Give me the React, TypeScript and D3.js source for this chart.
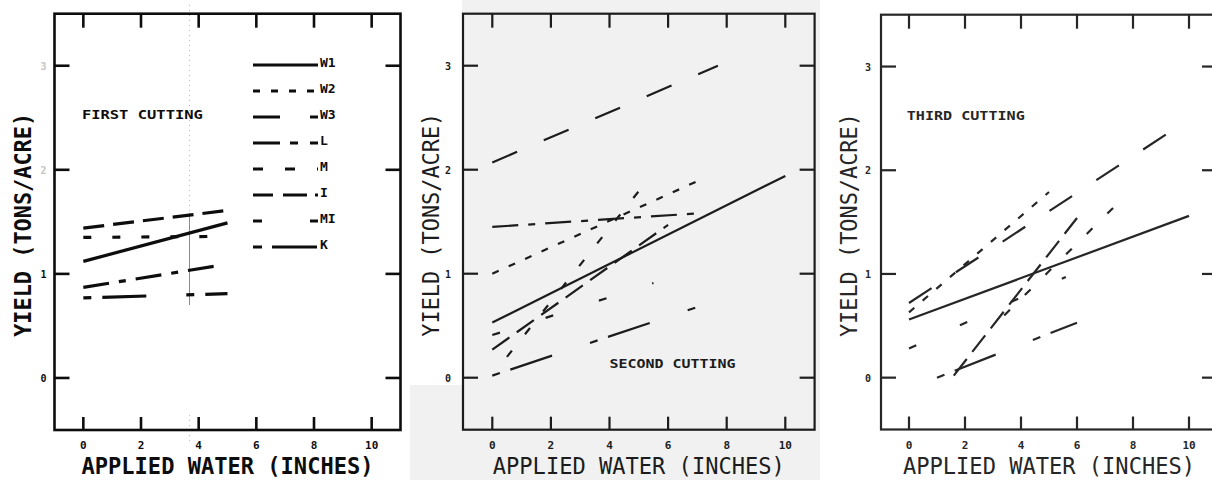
import React from "react";
import * as d3 from "d3";

// ---------- data ----------
const X_TICKS = [0, 2, 4, 6, 8, 10];
const Y_TICKS = [0, 1, 2, 3];
const X_TICK_LABELS = ["0", "2", "4", "6", "8", "10"];
const Y_TICK_LABELS = ["0", "1", "2", "3"];
const SERIES = ["W1", "W2", "W3", "L", "M", "I", "MI", "K"];
const CUTTINGS = ["FIRST CUTTING", "SECOND CUTTING", "THIRD CUTTING"];
const X_TITLE = "APPLIED WATER (INCHES)";
const Y_TITLE = "YIELD (TONS/ACRE)";

// regression lines: [series, water start, yield start, water end, yield end]
const FIRST_LINES: [string, number, number, number, number][] = [
  ["I", 0, 1.44, 5, 1.61],
  ["M", 0, 1.35, 4.6, 1.36],
  ["W1", 0, 1.12, 5, 1.49],
  ["L", 0, 0.87, 4.7, 1.08],
  ["K", 0, 0.77, 5, 0.81],
];
const SECOND_LINES: [string, number, number, number, number][] = [
  ["W3", 0, 2.07, 7.7, 3.0],
  ["W1", 0, 0.53, 10, 1.94],
  ["W2", 0, 1.0, 7, 1.89],
  ["L", 0, 1.45, 7, 1.58],
  ["I", 0, 0.27, 6, 1.47],
  ["M", 0.5, 0.2, 5.3, 1.9],
  ["MI", 0, 0.41, 5.5, 0.91],
  ["K", 0, 0.02, 7, 0.68],
];
const THIRD_LINES: [string, number, number, number, number][] = [
  ["W1", 0, 0.56, 10, 1.56],
  ["W2", 0, 0.63, 5, 1.79],
  ["W3", 0, 0.72, 10, 2.49],
  ["I", 1.6, 0.02, 6, 1.54],
  ["M", 3.4, 0.6, 7.6, 1.72],
  ["MI", 0, 0.28, 5.6, 0.97],
  ["K", 1.0, 0.0, 6, 0.53],
];

// ---------- styles ----------
const DASH: Record<string, string> = {
  W1: "none",
  W2: "7 11",
  W3: "27 29",
  L: "26 10 7 10",
  M: "8 21",
  I: "21 9",
  MI: "8 48",
  K: "8 11 44 40",
};
const LEGEND_DASH: Record<string, string> = {
  W1: "none",
  W2: "7 11",
  W3: "27 30",
  L: "27 10 8 12",
  M: "10 22",
  I: "20 10 24 8",
  MI: "9 48",
  K: "9 10 45 40",
};

const FONT = "'DejaVu Sans Mono', 'Liberation Mono', monospace";

const PANELS = [
  {
    x0: 54.5, x1: 400.5, y0: 430, y1: 13.7, lines: FIRST_LINES,
    titleAt: [-0.05, 2.54], titleLen: 121, sw: 3.2, color: "#0d0d0d",
    frameW: 2.6, bold: true, legend: true, faintY: [2, 3], yLabOff: 11,
  },
  {
    x0: 463, x1: 814.6, y0: 429.7, y1: 13.7, lines: SECOND_LINES,
    titleAt: [4.0, 0.14], titleLen: 126, sw: 2.2, color: "#1c1c1c",
    frameW: 2.2, bold: false, legend: false, faintY: [], yLabOff: 15,
  },
  {
    x0: 881, x1: 1217, y0: 429.5, y1: 14.7, lines: THIRD_LINES,
    titleAt: [-0.08, 2.53], titleLen: 118, sw: 2.2, color: "#262626",
    frameW: 2.2, bold: false, legend: false, faintY: [], yLabOff: 13,
  },
];

function PanelView({ p, idx }: { p: any; idx: number }) {
  const x = d3.scaleLinear().domain([-1, 11]).range([p.x0, p.x1]);
  const y = d3.scaleLinear().domain([-0.5, 3.5]).range([p.y0, p.y1]);
  const line = d3
    .line<[number, number]>()
    .x((d) => x(d[0]))
    .y((d) => y(d[1]));
  const c = p.color;
  const weight = p.bold ? "bold" : "normal";
  const tickW = p.frameW;
  return (
    <g>
      {/* frame */}
      <rect
        x={p.x0}
        y={p.y1}
        width={p.x1 - p.x0}
        height={p.y0 - p.y1}
        fill="none"
        stroke={c}
        strokeWidth={p.frameW}
      />
      {/* x ticks */}
      {X_TICKS.map((t, i) => (
        <g key={"xt" + i}>
          <line x1={x(t)} x2={x(t)} y1={p.y1} y2={p.y1 + 14} stroke={c} strokeWidth={tickW} />
          <line x1={x(t)} x2={x(t)} y1={p.y0} y2={p.y0 - 13} stroke={c} strokeWidth={tickW} />
          <text
            x={x(t)}
            y={449}
            textAnchor="middle"
            fontFamily={FONT}
            fontWeight="bold"
            fontSize={11}
            fill={c}
          >
            {X_TICK_LABELS[i]}
          </text>
        </g>
      ))}
      {/* y ticks */}
      {Y_TICKS.map((t, i) => (
        <g key={"yt" + i}>
          <line x1={p.x0} x2={p.x0 + 15} y1={y(t)} y2={y(t)} stroke={c} strokeWidth={tickW} />
          <line x1={p.x1} x2={p.x1 - 15} y1={y(t)} y2={y(t)} stroke={c} strokeWidth={tickW} />
          <text
            x={p.x0 - p.yLabOff}
            y={y(t) + 4}
            textAnchor="middle"
            fontFamily={FONT}
            fontWeight="bold"
            fontSize={10}
            fill={p.faintY.includes(t) ? "#c4c4c4" : c}
          >
            {Y_TICK_LABELS[i]}
          </text>
        </g>
      ))}
      {/* regression lines */}
      {p.lines.map((l: any, i: number) => (
        <path
          key={"l" + i}
          d={line([
            [l[1], l[2]],
            [l[3], l[4]],
          ]) as string}
          fill="none"
          stroke={c}
          strokeWidth={p.sw}
          strokeDasharray={DASH[l[0]]}
        />
      ))}
      {/* cutting label */}
      <text
        x={x(p.titleAt[0])}
        y={y(p.titleAt[1]) + 5}
        fontFamily={FONT}
        fontWeight="bold"
        fontSize={13}
        fill={c}
        textLength={p.titleLen}
        lengthAdjust="spacingAndGlyphs"
      >
        {CUTTINGS[idx]}
      </text>
      {/* axis titles */}
      <text
        x={x(5)}
        y={474}
        textAnchor="middle"
        fontFamily={FONT}
        fontWeight={weight}
        fontSize={23}
        fill={c}
        textLength={292}
        lengthAdjust="spacingAndGlyphs"
      >
        {X_TITLE}
      </text>
      <text
        transform={`translate(${p.x0 - 24},${y(1.5) + 3}) rotate(-90)`}
        textAnchor="middle"
        fontFamily={FONT}
        fontWeight={weight}
        fontSize={23}
        fill={c}
        textLength={224}
        lengthAdjust="spacingAndGlyphs"
      >
        {Y_TITLE}
      </text>
      {/* legend */}
      {p.legend &&
        SERIES.map((s, i) => {
          const ly = 65 + 26 * i;
          return (
            <g key={"lg" + s}>
              <line
                x1={253}
                x2={318}
                y1={ly}
                y2={ly}
                stroke={c}
                strokeWidth={3}
                strokeDasharray={LEGEND_DASH[s]}
              />
              <text
                x={320}
                y={ly + 2}
                fontFamily={FONT}
                fontWeight="bold"
                fontSize={13}
                fill={c}
              >
                {s}
              </text>
            </g>
          );
        })}
    </g>
  );
}

export default function App() {
  return (
    <svg
      width={1212}
      height={480}
      viewBox="0 0 1212 480"
      style={{ position: "absolute", left: 0, top: 0, background: "#fff" }}
    >
      {/* scanned-page tint of the middle figure */}
      <rect x={462} y={0} width={358} height={480} fill="#f1f1f1" />
      <rect x={410} y={385} width={52} height={95} fill="#f1f1f1" />
      {/* scan artefact in first figure */}
      <line x1={189.5} x2={189.5} y1={213} y2={305} stroke="#8a8a8a" strokeWidth={1} />
      <line x1={189.5} x2={189.5} y1={5} y2={213} stroke="#bbb" strokeWidth={1} strokeDasharray="1 4" />
      <line x1={189.5} x2={189.5} y1={415} y2={445} stroke="#bbb" strokeWidth={1} strokeDasharray="1 4" />
      {PANELS.map((p, i) => (
        <PanelView key={i} p={p} idx={i} />
      ))}
    </svg>
  );
}
